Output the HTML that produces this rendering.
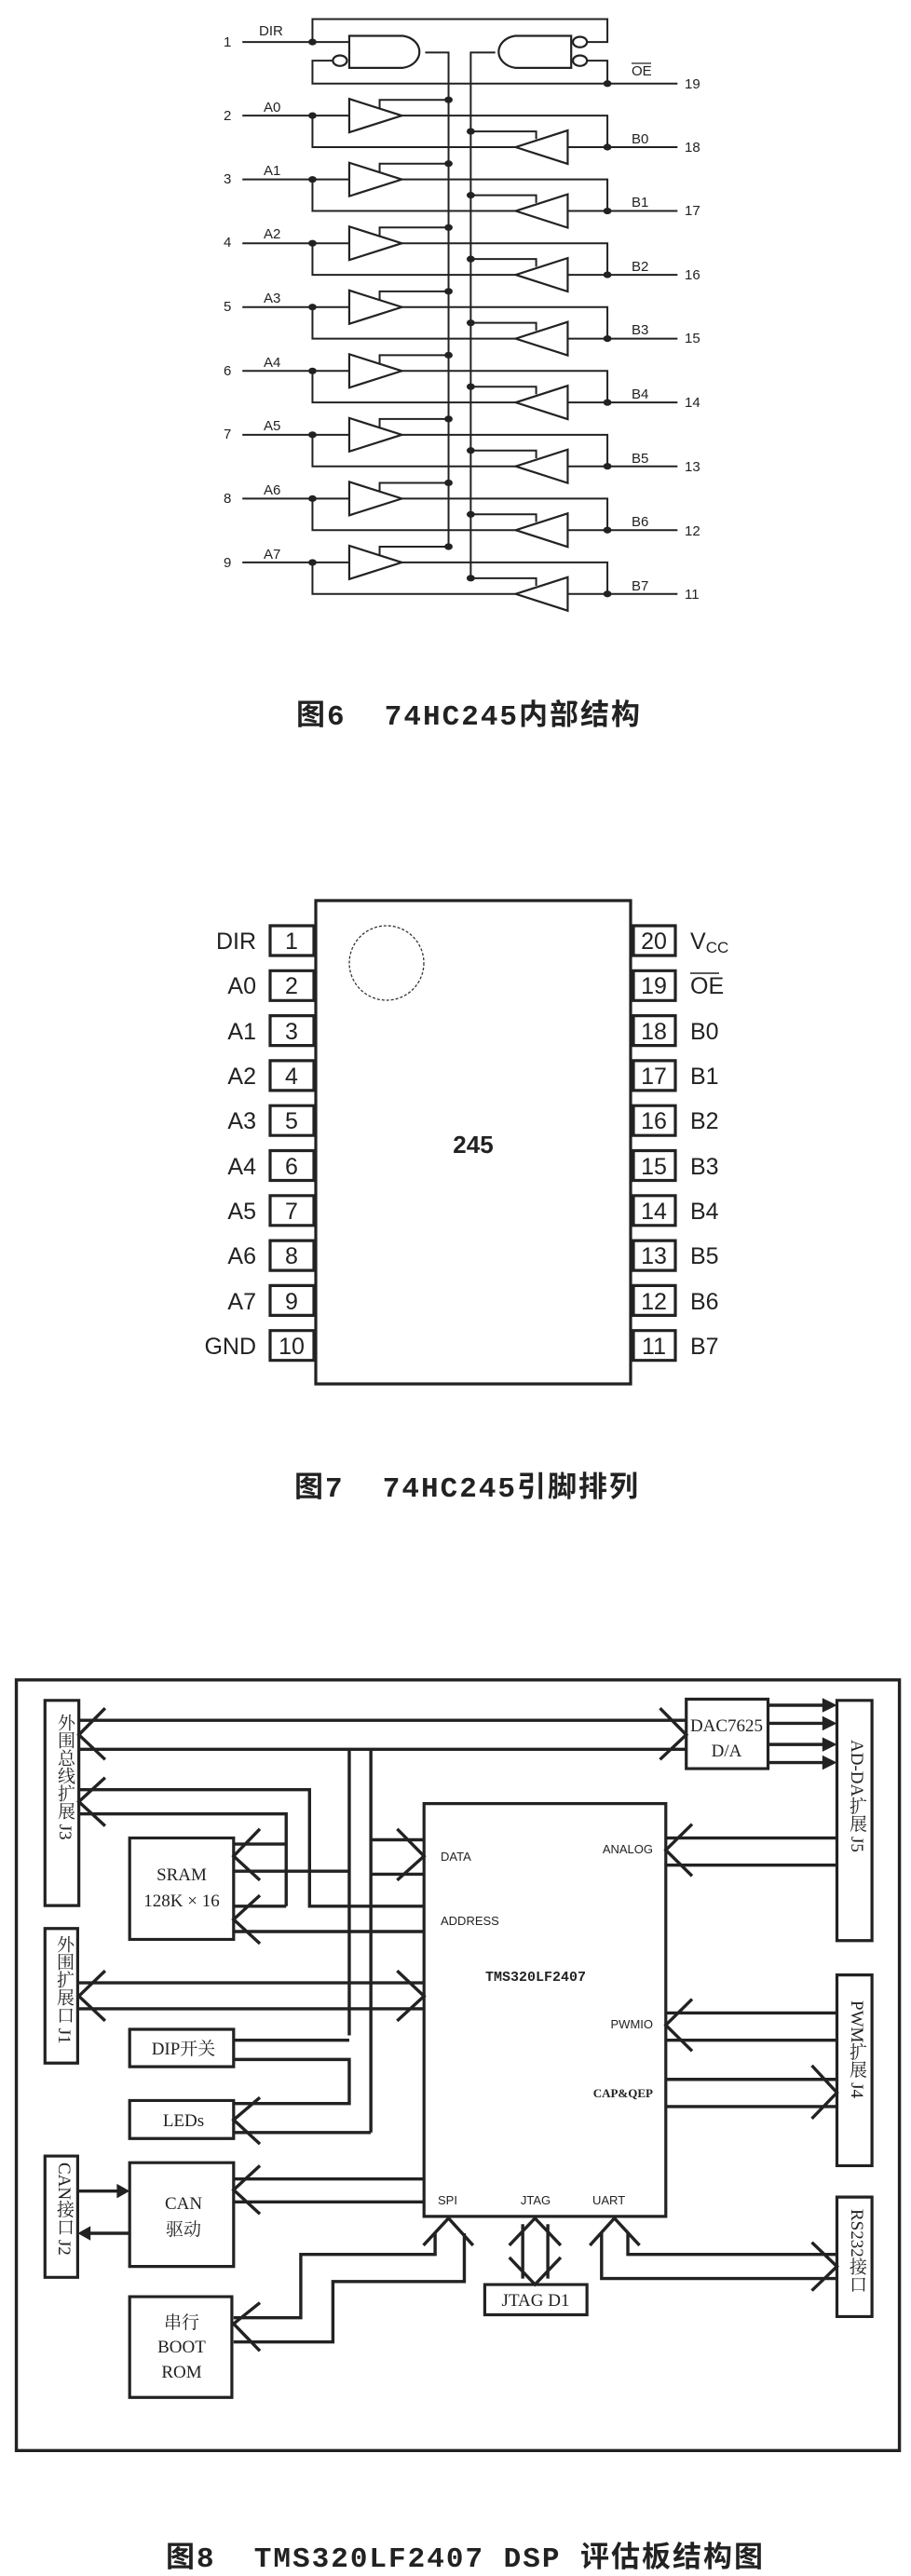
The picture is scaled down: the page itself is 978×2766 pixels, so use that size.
<!DOCTYPE html>
<html><head><meta charset="utf-8"><style>
html,body{margin:0;padding:0;background:#fff;}
body{width:978px;height:2761px;overflow:hidden;position:relative;}
svg{position:absolute;left:0;top:0;}
.cap{position:absolute;font-family:"Liberation Mono","Noto Sans CJK SC",monospace;font-size:31px;letter-spacing:2px;font-weight:bold;color:#222;white-space:nowrap;}
.vt{position:absolute;writing-mode:vertical-rl;font-family:"Liberation Serif","Noto Serif CJK SC",serif;font-size:19px;color:#222;white-space:nowrap;}
</style></head><body>
<svg width="978" height="2761" viewBox="0 0 978 2761">
<defs><style>
.w{fill:none;stroke:#222;stroke-width:2;vector-effect:non-scaling-stroke;}
.t{fill:#fff;stroke:#222;stroke-width:2.2;vector-effect:non-scaling-stroke;}
.b{fill:none;stroke:#222;stroke-width:3.4;vector-effect:non-scaling-stroke;}
.bx{fill:#fff;stroke:#222;stroke-width:3.2;vector-effect:non-scaling-stroke;}
</style></defs>
<!-- FIG 6 -->
<g transform="scale(0.627,0.513)">
<path class="t" d="M598,75 L690,75 A34,34 0 0 1 690,142 L598,142 Z"/>
<path class="t" d="M978,75 L882,75 A34,34 0 0 0 882,142 L978,142 Z"/>
<ellipse class="t" cx="582" cy="127" rx="12" ry="11"/>
<ellipse class="t" cx="993" cy="88" rx="12" ry="11"/>
<ellipse class="t" cx="993" cy="127" rx="12" ry="11"/>
<path class="w" d="M415,88 L598,88 M535,88 L535,40 L1040,40 L1040,88 L1005,88 M570,127 L535,127 L535,175 L1160,175 M1040,175 L1040,127 L1005,127 M728,110 L768,110 L768,1145 M848,110 L806,110 L806,1212"/>
<g fill="#222"><circle cx="535" cy="88" r="7"/><circle cx="1040" cy="175" r="7"/></g>
<g id="r0">
<path class="w" d="M415,242 L598,242 M535,242 L535,308 L883,308 M688,242 L1040,242 L1040,308 M650,227 L650,209 L768,209 M918,291 L918,275 L806,275 M972,308 L1160,308"/>
<path class="t" d="M598,207 L598,277 L688,242 Z"/><path class="t" d="M972,273 L972,343 L883,308 Z"/>
<g fill="#222"><circle cx="535" cy="242" r="7"/><circle cx="768" cy="209" r="7"/><circle cx="806" cy="275" r="7"/><circle cx="1040" cy="308" r="7"/></g>
</g>
<use href="#r0" transform="translate(0,133.6)"/>
<use href="#r0" transform="translate(0,267.2)"/>
<use href="#r0" transform="translate(0,400.8)"/>
<use href="#r0" transform="translate(0,534.4)"/>
<use href="#r0" transform="translate(0,668)"/>
<use href="#r0" transform="translate(0,801.6)"/>
<use href="#r0" transform="translate(0,935.2)"/>
</g>
<g font-family="Liberation Sans, sans-serif" font-size="15" fill="#222">
<text x="240" y="50">1</text><text x="240" y="129">2</text><text x="240" y="197">3</text><text x="240" y="265">4</text><text x="240" y="334">5</text><text x="240" y="403">6</text><text x="240" y="471">7</text><text x="240" y="540">8</text><text x="240" y="609">9</text>
<text x="278" y="38">DIR</text>
<text x="283" y="120">A0</text><text x="283" y="188">A1</text><text x="283" y="256">A2</text><text x="283" y="325">A3</text><text x="283" y="394">A4</text><text x="283" y="462">A5</text><text x="283" y="531">A6</text><text x="283" y="600">A7</text>
<text x="678" y="81">OE</text><line x1="678" y1="68" x2="699" y2="68" stroke="#222" stroke-width="1.2"/>
<text x="678" y="154">B0</text><text x="678" y="222">B1</text><text x="678" y="291">B2</text><text x="678" y="359">B3</text><text x="678" y="428">B4</text><text x="678" y="497">B5</text><text x="678" y="565">B6</text><text x="678" y="634">B7</text>
<text x="735" y="95">19</text><text x="735" y="163">18</text><text x="735" y="231">17</text><text x="735" y="300">16</text><text x="735" y="368">15</text><text x="735" y="437">14</text><text x="735" y="506">13</text><text x="735" y="575">12</text><text x="735" y="643">11</text>
</g>
<!-- FIG 7 -->
<rect x="339" y="967" width="338" height="519" class="bx"/>
<circle cx="415" cy="1034" r="40" fill="none" stroke="#333" stroke-width="1.3" stroke-dasharray="3,2"/>
<g id="pins">
<rect x="290" y="994" width="47" height="32" class="bx"/><rect x="680" y="994" width="45" height="32" class="bx"/>
</g>
<use href="#pins" transform="translate(0,48.3)"/><use href="#pins" transform="translate(0,96.6)"/><use href="#pins" transform="translate(0,144.9)"/><use href="#pins" transform="translate(0,193.2)"/><use href="#pins" transform="translate(0,241.5)"/><use href="#pins" transform="translate(0,289.8)"/><use href="#pins" transform="translate(0,338.1)"/><use href="#pins" transform="translate(0,386.4)"/><use href="#pins" transform="translate(0,434.7)"/>
<g font-family="Liberation Sans, sans-serif" font-size="25" fill="#222">
<g text-anchor="end">
<text x="275" y="1019">DIR</text><text x="275" y="1067">A0</text><text x="275" y="1116">A1</text><text x="275" y="1164">A2</text><text x="275" y="1212">A3</text><text x="275" y="1261">A4</text><text x="275" y="1309">A5</text><text x="275" y="1357">A6</text><text x="275" y="1406">A7</text><text x="275" y="1454">GND</text>
</g>
<g text-anchor="middle">
<text x="313" y="1019">1</text><text x="313" y="1067">2</text><text x="313" y="1116">3</text><text x="313" y="1164">4</text><text x="313" y="1212">5</text><text x="313" y="1261">6</text><text x="313" y="1309">7</text><text x="313" y="1357">8</text><text x="313" y="1406">9</text><text x="313" y="1454">10</text>
<text x="702" y="1019">20</text><text x="702" y="1067">19</text><text x="702" y="1116">18</text><text x="702" y="1164">17</text><text x="702" y="1212">16</text><text x="702" y="1261">15</text><text x="702" y="1309">14</text><text x="702" y="1357">13</text><text x="702" y="1406">12</text><text x="702" y="1454">11</text>
</g>
<text x="741" y="1019">V<tspan font-size="17" dy="4">CC</tspan></text>
<text x="741" y="1067">OE</text><line x1="741" y1="1045" x2="772" y2="1045" stroke="#222" stroke-width="1.5"/>
<text x="741" y="1116">B0</text><text x="741" y="1164">B1</text><text x="741" y="1212">B2</text><text x="741" y="1261">B3</text><text x="741" y="1309">B4</text><text x="741" y="1357">B5</text><text x="741" y="1406">B6</text><text x="741" y="1454">B7</text>
<text x="508" y="1238" font-weight="bold" font-size="26" text-anchor="middle">245</text>
</g>
<!-- FIG 8 -->
<g transform="translate(0,1750) scale(0.627,0.648)">
<rect x="28" y="83" width="1512" height="1277" class="b"/>
<rect x="77" y="117" width="58" height="340" class="bx"/>
<rect x="77" y="495" width="56" height="223" class="bx"/>
<rect x="77" y="872" width="56" height="201" class="bx"/>
<rect x="222" y="345" width="178" height="168" class="bx"/>
<rect x="222" y="662" width="178" height="62" class="bx"/>
<rect x="222" y="780" width="178" height="63" class="bx"/>
<rect x="222" y="883" width="178" height="172" class="bx"/>
<rect x="222" y="1105" width="175" height="167" class="bx"/>
<rect x="726" y="288" width="414" height="684" class="bx"/>
<rect x="1175" y="115" width="140" height="115" class="bx"/>
<rect x="1433" y="117" width="60" height="398" class="bx"/>
<rect x="1433" y="572" width="60" height="316" class="bx"/>
<rect x="1433" y="940" width="60" height="198" class="bx"/>
<rect x="830" y="1085" width="175" height="50" class="bx"/>
<path class="b" d="
M135,150 L1175,150 M135,198 L1175,198
M180,130 L135,174 L180,215 M1130,130 L1175,174 L1130,215
M598,198 L598,672 M635,198 L635,833
M400,680 L598,680 M400,712 L598,712 L598,785 L400,785 M400,833 L635,833
M445,775 L400,812 L445,852
M635,348 L726,348 M635,405 L726,405 M680,330 L726,375 L680,415
M135,265 L530,265 L530,458 L726,458 M135,305 L490,305 L490,458
M180,245 L135,285 L180,325
M400,355 L490,355 M400,400 L598,400 M400,458 L490,458 M400,500 L726,500
M445,330 L400,375 L445,415 M445,440 L400,480 L445,520
M135,585 L726,585 M135,628 L726,628 M180,565 L135,607 L180,648 M680,565 L726,607 L680,648
M400,910 L726,910 M400,948 L726,948 M445,888 L400,928 L445,968
M133,930 L205,930 M222,1000 L150,1000
M445,1115 L400,1150 L445,1195
M400,1140 L515,1140 L515,1035 L745,1035 L745,1000 M400,1180 L570,1180 L570,1080 L795,1080 L795,1000
M725,1020 L768,975 L810,1020
M895,985 L895,1075 M938,985 L938,1075 M872,1020 L916,975 L960,1020 M872,1040 L916,1085 L960,1040
M1030,1000 L1030,1075 L1433,1075 M1075,1000 L1075,1035 L1433,1035 M1010,1020 L1052,975 L1095,1020
M1390,1015 L1433,1055 L1390,1095
M1140,345 L1433,345 M1140,390 L1433,390 M1185,322 L1140,365 L1185,408
M1140,635 L1433,635 M1140,680 L1433,680 M1185,612 L1140,655 L1185,698
M1140,745 L1433,745 M1140,790 L1433,790 M1390,722 L1433,767 L1390,810
M1315,125 L1410,125 M1315,155 L1410,155 M1315,190 L1410,190 M1315,220 L1410,220"/>
<g fill="#222">
<path d="M222,930 L200,918 L200,942 Z"/><path d="M133,1000 L155,988 L155,1012 Z"/>
<path d="M1433,125 L1408,113 L1408,137 Z"/><path d="M1433,155 L1408,143 L1408,167 Z"/><path d="M1433,190 L1408,178 L1408,202 Z"/><path d="M1433,220 L1408,208 L1408,232 Z"/>
</g>
</g>
<g font-family="Liberation Sans, sans-serif" font-size="13" fill="#222">
<text x="473" y="1998">DATA</text>
<text x="701" y="1990" text-anchor="end">ANALOG</text>
<text x="473" y="2067">ADDRESS</text>
<text x="575" y="2127" text-anchor="middle" font-weight="bold" font-size="15" font-family="Liberation Mono, monospace">TMS320LF2407</text>
<text x="701" y="2178" text-anchor="end">PWMIO</text>
<text x="701" y="2252" text-anchor="end" font-family="Liberation Serif, serif" font-weight="bold">CAP&amp;QEP</text>
<text x="470" y="2367">SPI</text>
<text x="575" y="2367" text-anchor="middle">JTAG</text>
<text x="636" y="2367">UART</text>
</g>
<g font-family="Liberation Serif, 'Noto Serif CJK SC', serif" font-size="19" fill="#222" text-anchor="middle">
<text x="195" y="2019">SRAM</text><text x="195" y="2047">128K × 16</text>
<text x="197" y="2206">DIP开关</text>
<text x="197" y="2283">LEDs</text>
<text x="197" y="2372">CAN</text><text x="197" y="2400">驱动</text>
<text x="195" y="2500">串行</text><text x="195" y="2526">BOOT</text><text x="195" y="2553">ROM</text>
<text x="780" y="1859">DAC7625</text><text x="780" y="1886">D/A</text>
<text x="575" y="2476">JTAG  D1</text>
</g>
</svg>
<div class="cap" style="left:318px;top:742px;">图6&nbsp;&nbsp;74HC245内部结构</div>
<div class="cap" style="left:316px;top:1571px;">图7&nbsp;&nbsp;74HC245引脚排列</div>
<div class="cap" style="left:178px;top:2720px;">图8&nbsp;&nbsp;TMS320LF2407 DSP 评估板结构图</div>
<div class="vt" style="left:56px;top:1840px;">外围总线扩展 J3</div>
<div class="vt" style="left:55px;top:2078px;">外围扩展口 J1</div>
<div class="vt" style="left:55px;top:2322px;">CAN接口 J2</div>
<div class="vt" style="left:906px;top:1868px;">AD-DA扩展 J5</div>
<div class="vt" style="left:906px;top:2148px;">PWM扩展 J4</div>
<div class="vt" style="left:906px;top:2372px;">RS232接口</div>
</body></html>
